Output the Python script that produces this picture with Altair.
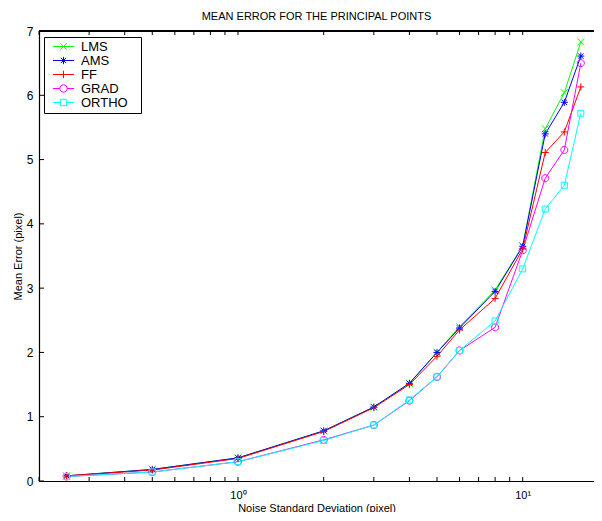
import altair as alt
import pandas as pd

# ---- data ----
noise = [0.25, 0.5, 1, 2, 3, 4, 5, 6, 8, 10, 12, 14, 16]
series_names = ["LMS", "AMS", "FF", "GRAD", "ORTHO"]
lms = [0.08, 0.18, 0.36, 0.78, 1.15, 1.52, 2.00, 2.40, 2.97, 3.66, 5.48, 6.04, 6.83]
ams = [0.08, 0.18, 0.36, 0.78, 1.15, 1.52, 2.00, 2.38, 2.95, 3.65, 5.40, 5.89, 6.61]
ff = [0.08, 0.17, 0.35, 0.77, 1.14, 1.50, 1.94, 2.35, 2.84, 3.61, 5.11, 5.43, 6.13]
grad = [0.07, 0.14, 0.30, 0.64, 0.87, 1.25, 1.62, 2.03, 2.39, 3.59, 4.71, 5.15, 6.50]
ortho = [0.07, 0.14, 0.30, 0.63, 0.87, 1.26, 1.62, 2.03, 2.49, 3.30, 4.23, 4.60, 5.72]
colors = ["#00ff00", "#0000ff", "#ff0000", "#ff00ff", "#00ffff"]

x_ticks = [0.2, 0.3, 0.4, 0.5, 0.6, 0.7, 0.8, 0.9, 1, 2, 3, 4, 5, 6, 7, 8, 9, 10]
y_ticks = [0, 1, 2, 3, 4, 5, 6, 7]

# marker paths (plot) and legend paths (line through marker)
marker_paths = [
    "M-1,-1L1,1M-1,1L1,-1",
    "M-1,0H1M0,-1V1M-0.75,-0.75L0.75,0.75M-0.75,0.75L0.75,-0.75",
    "M-1,0H1M0,-1V1",
    "M1,0A1,1 0 1,1 -1,0A1,1 0 1,1 1,0Z",
    "M-0.85,-0.85H0.85V0.85H-0.85Z",
]
legend_paths = [
    "M-2,0H2M-0.6,-0.6L0.6,0.6M-0.6,0.6L0.6,-0.6",
    "M-2,0H2M0,-0.7V0.7M-0.5,-0.5L0.5,0.5M-0.5,0.5L0.5,-0.5",
    "M-2,0H2M0,-0.7V0.7",
    "M0.7,0A0.7,0.7 0 1,1 -0.7,0A0.7,0.7 0 1,1 0.7,0Z M-2,0H-0.7M0.7,0H2",
    "M-0.6,-0.6H0.6V0.6H-0.6Z M-2,0H-0.6M0.6,0H2",
]

rows = []
for name, vals in zip(series_names, [lms, ams, ff, grad, ortho]):
    for xv, yv in zip(noise, vals):
        rows.append({"noise": xv, "err": yv, "series": name})
df = pd.DataFrame(rows)

W, H = 555, 450
FONT = "Liberation Sans"

x_scale = alt.Scale(type="log", domain=[0.2, 17.8], nice=False)
y_scale = alt.Scale(domain=[0, 7], nice=False)
col_scale = alt.Scale(domain=series_names, range=colors)

base = alt.Chart(df)

lines = base.mark_line(strokeWidth=1, clip=True).encode(
    x=alt.X("noise:Q", scale=x_scale,
            axis=alt.Axis(values=[1, 10], ticks=False, grid=False, domainColor="black",
                          domainWidth=1.2,
                          labelExpr="datum.value == 1 ? '10⁰' : '10¹'",
                          labelFont=FONT, labelFontSize=11, labelColor="black",
                          labelPadding=8, title="Noise Standard Deviation (pixel)",
                          titleFont=FONT, titleFontSize=11, titleFontWeight="normal",
                          titleColor="black", titlePadding=2)),
    y=alt.Y("err:Q", scale=y_scale,
            axis=alt.Axis(values=y_ticks, format="d", ticks=False, grid=False,
                          domainColor="black", domainWidth=1.2,
                          labelFont=FONT, labelFontSize=12, labelColor="black",
                          labelPadding=6, title="Mean Error (pixel)",
                          titleFont=FONT, titleFontSize=11, titleFontWeight="normal",
                          titleColor="black", titlePadding=3)),
    color=alt.Color("series:N", scale=col_scale, legend=None),
    detail="series:N",
)

points = base.mark_point(filled=False, strokeWidth=1, size=50, opacity=1).encode(
    x=alt.X("noise:Q", scale=x_scale),
    y=alt.Y("err:Q", scale=y_scale),
    color=alt.Color("series:N", scale=col_scale, legend=None),
    shape=alt.Shape("series:N", scale=alt.Scale(domain=series_names, range=marker_paths),
                    legend=None),
)

leg_props = dict(title=None, orient="none", legendX=5, legendY=6,
                 strokeColor="black", fillColor="white",
                 padding=3, rowPadding=0, symbolSize=110,
                 symbolStrokeWidth=1, symbolOffset=10,
                 labelOffset=11, labelFont=FONT,
                 labelFontSize=13, labelColor="black",
                 labelExpr="datum.label + '\u2800'")

leg_df = pd.DataFrame({"series": series_names})
legend_layer = alt.Chart(leg_df).transform_filter("false").mark_point(
    filled=False, strokeWidth=1, opacity=1
).encode(
    x=alt.X("noise:Q", scale=x_scale),
    y=alt.Y("err:Q", scale=y_scale),
    color=alt.Color("series:N",
                    scale=alt.Scale(domain=series_names, range=colors),
                    legend=alt.Legend(**leg_props)),
    shape=alt.Shape("series:N",
                    scale=alt.Scale(domain=series_names, range=legend_paths),
                    legend=alt.Legend(**leg_props)),
)

tick_df = pd.DataFrame({"t": x_ticks})
bottom_ticks = alt.Chart(tick_df).mark_rule(color="black", strokeWidth=1).encode(
    x=alt.X("t:Q", scale=x_scale), y=alt.value(H), y2=alt.value(H - 4))
top_ticks = alt.Chart(tick_df).mark_rule(color="black", strokeWidth=1).encode(
    x=alt.X("t:Q", scale=x_scale), y=alt.value(0), y2=alt.value(4))
ytick_df = pd.DataFrame({"v": y_ticks})
left_ticks = alt.Chart(ytick_df).mark_rule(color="black", strokeWidth=1).encode(
    y=alt.Y("v:Q", scale=y_scale), x=alt.value(0), x2=alt.value(5))
top_line = alt.Chart(tick_df).mark_rule(color="black", strokeWidth=1.2).encode(
    x=alt.value(0), x2=alt.value(W), y=alt.value(0))

chart = alt.layer(
    lines, points, legend_layer, bottom_ticks, top_ticks, left_ticks, top_line
).resolve_scale(color="independent", shape="independent").properties(
    width=W, height=H,
    title=alt.TitleParams("MEAN ERROR FOR THE PRINCIPAL POINTS", font=FONT, fontSize=11,
                          fontWeight="normal", color="black", anchor="middle", offset=3),
    autosize=alt.AutoSizeParams(type="none"),
    padding={"left": 31, "top": 23, "right": 0, "bottom": 31},
).configure_view(stroke=None).configure(background="white")

chart.save("out.html", embed_options={"renderer": "svg", "actions": False})
